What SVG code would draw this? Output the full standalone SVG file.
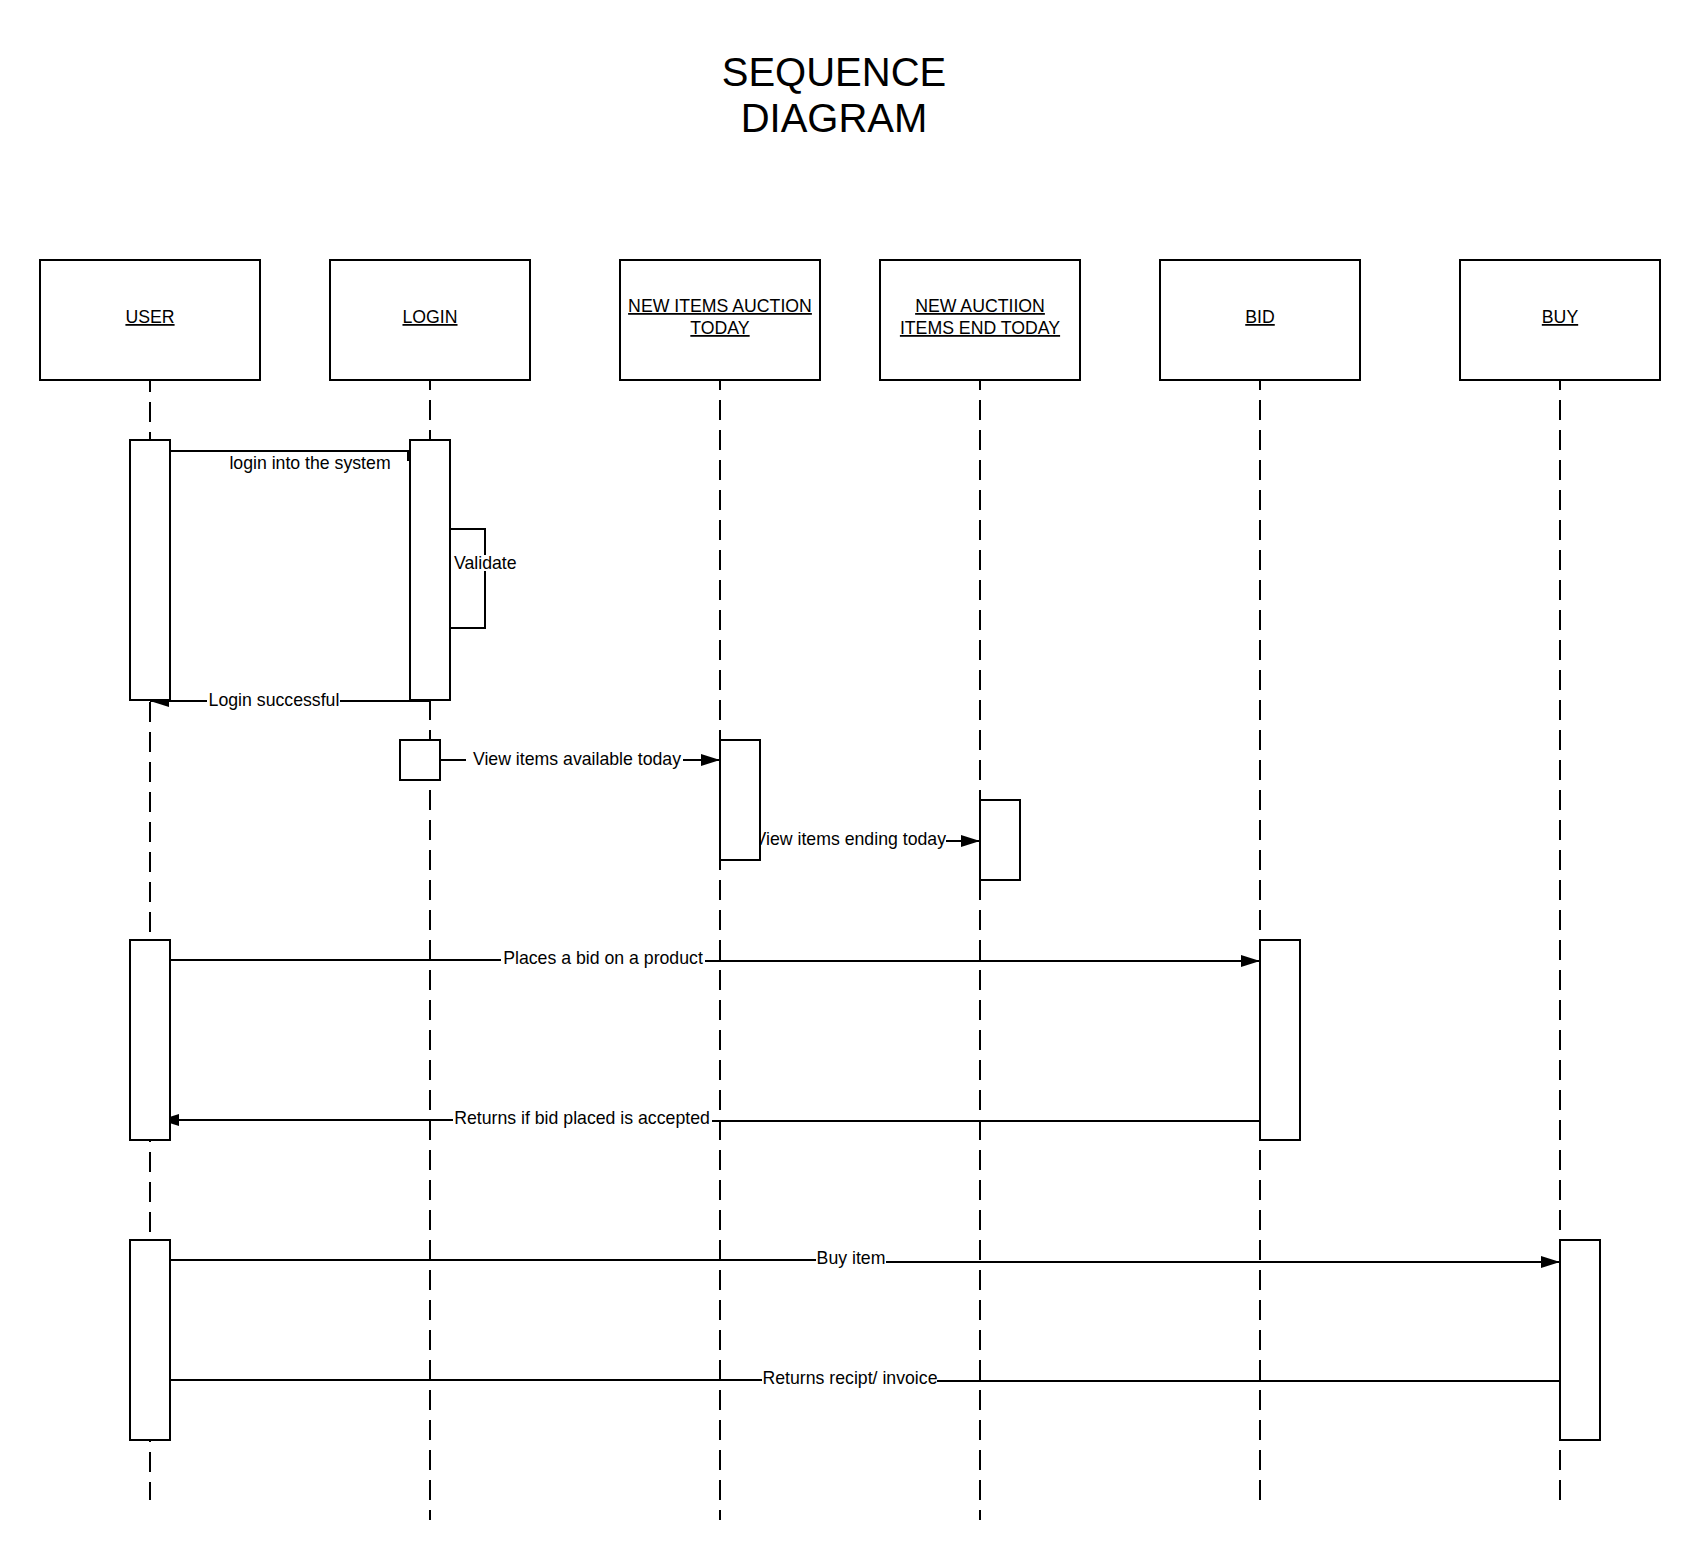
<svg xmlns="http://www.w3.org/2000/svg" width="1700" height="1560" viewBox="0 0 1700 1560">
<defs>
<marker id="arr" markerWidth="19" markerHeight="12" refX="19" refY="6" orient="auto" markerUnits="userSpaceOnUse"><path d="M0,0 L19,6 L0,12 Z" fill="#000"/></marker>
<style>
.box{fill:#fff;stroke:#000;stroke-width:2}
.act{fill:#fff;stroke:#000;stroke-width:2}
.life{stroke:#000;stroke-width:2;stroke-dasharray:20 10;fill:none}
.msg{stroke:#000;stroke-width:2;fill:none}
.lbl{font-family:"Liberation Sans",Arial,sans-serif;font-size:17.7px;fill:#000}
.hdr{font-family:"Liberation Sans",Arial,sans-serif;font-size:17.7px;fill:#000;text-anchor:middle;text-decoration:underline}
.title{font-family:"Liberation Sans",Arial,sans-serif;font-size:40px;fill:#000;text-anchor:middle}
</style>
</defs>
<rect width="1700" height="1560" fill="#fff"/>
<g id="title">
<text class="title" x="834" y="86">SEQUENCE</text>
<text class="title" x="834" y="132">DIAGRAM</text>
</g>
<g id="lifelines">
<path class="life" d="M150,380 V1500" stroke-dashoffset="8"/>
<path class="life" d="M430,380 V1520" stroke-dashoffset="10"/>
<path class="life" d="M720,380 V1520" stroke-dashoffset="10"/>
<path class="life" d="M980,380 V1520" stroke-dashoffset="10"/>
<path class="life" d="M1260,380 V1500" stroke-dashoffset="10"/>
<path class="life" d="M1560,380 V1500" stroke-dashoffset="10"/>
</g>
<g id="connectors">
<path class="msg" d="M170,451 H410"/>
<rect x="407" y="451" width="3" height="10" fill="#000"/>
<text class="lbl" x="310" y="469" text-anchor="middle">login into the system</text>
<path class="msg" d="M450,529 H485 V628 H450"/>
<rect x="452" y="555" width="68" height="16" fill="#fff"/>
<text class="lbl" x="454" y="569">Validate</text>
<path class="msg" d="M430,701 H340"/>
<path class="msg" d="M207,701 H150" marker-end="url(#arr)"/>
<text class="lbl" x="274" y="706" text-anchor="middle">Login successful</text>
<path class="msg" d="M440,760 H466"/>
<path class="msg" d="M683,760 H720" marker-end="url(#arr)"/>
<text class="lbl" x="577" y="765" text-anchor="middle">View items available today</text>
<path class="msg" d="M946,841 H980" marker-end="url(#arr)"/>
<text class="lbl" x="946" y="845" text-anchor="end">View items ending today</text>
<path class="msg" d="M170,960 H501"/>
<path class="msg" d="M705,961 H1260" marker-end="url(#arr)"/>
<text class="lbl" x="603" y="964" text-anchor="middle">Places a bid on a product</text>
<path class="msg" d="M1260,1121 H712"/>
<path class="msg" d="M453,1120 H160" marker-end="url(#arr)"/>
<text class="lbl" x="582" y="1124" text-anchor="middle">Returns if bid placed is accepted</text>
<path class="msg" d="M170,1260 H816"/>
<path class="msg" d="M886,1262 H1560" marker-end="url(#arr)"/>
<text class="lbl" x="851" y="1264" text-anchor="middle">Buy item</text>
<path class="msg" d="M1560,1381 H937"/>
<path class="msg" d="M762,1380 H170"/>
<text class="lbl" x="850" y="1384" text-anchor="middle">Returns recipt/ invoice</text>
</g>
<g id="activations">
<rect id="act-user-1" class="act" x="130" y="440" width="40" height="260"/>
<rect id="act-user-2" class="act" x="130" y="940" width="40" height="200"/>
<rect id="act-user-3" class="act" x="130" y="1240" width="40" height="200"/>
<rect id="act-login-1" class="act" x="410" y="440" width="40" height="260"/>
<rect id="act-login-2" class="act" x="400" y="740" width="40" height="40"/>
<rect id="act-newitems" class="act" x="720" y="740" width="40" height="120"/>
<rect id="act-ending" class="act" x="980" y="800" width="40" height="80"/>
<rect id="act-bid" class="act" x="1260" y="940" width="40" height="200"/>
<rect id="act-buy" class="act" x="1560" y="1240" width="40" height="200"/>
</g>
<g id="node-user">
<rect class="box" x="40" y="260" width="220" height="120"/>
<text class="hdr" x="150" y="323">USER</text>
</g>
<g id="node-login">
<rect class="box" x="330" y="260" width="200" height="120"/>
<text class="hdr" x="430" y="323">LOGIN</text>
</g>
<g id="node-new-items">
<rect class="box" x="620" y="260" width="200" height="120"/>
<text class="hdr" x="720" y="312">NEW ITEMS AUCTION</text>
<text class="hdr" x="720" y="334">TODAY</text>
</g>
<g id="node-new-auction">
<rect class="box" x="880" y="260" width="200" height="120"/>
<text class="hdr" x="980" y="312">NEW AUCTIION</text>
<text class="hdr" x="980" y="334">ITEMS END TODAY</text>
</g>
<g id="node-bid">
<rect class="box" x="1160" y="260" width="200" height="120"/>
<text class="hdr" x="1260" y="323">BID</text>
</g>
<g id="node-buy">
<rect class="box" x="1460" y="260" width="200" height="120"/>
<text class="hdr" x="1560" y="323">BUY</text>
</g>
</svg>
